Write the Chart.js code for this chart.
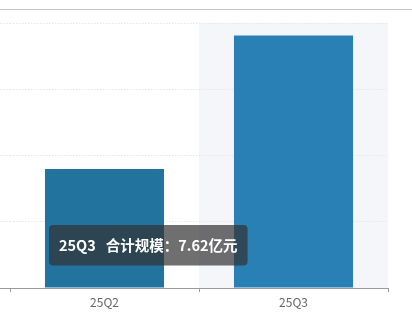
<!DOCTYPE html>
<html>
<head>
<meta charset="utf-8">
<script src="https://cdn.jsdelivr.net/npm/chart.js@4"></script>
<style>
    html, body { margin: 0; padding: 0; background: #fff; }
    .wrap { position: relative; width: 412px; height: 316px; overflow: hidden; }
    .topline { position: absolute; top: 9px; left: 0; width: 412px; height: 1px; background: #c6c6c6; }
    canvas { position: absolute; top: 0; left: 0; }
</style>
</head>
<body>
<div class="wrap">
    <div class="topline"></div>
    <canvas id="scaleChart" width="412" height="316"></canvas>
</div>
<script>
// data
const quarters = ['25Q2', '25Q3'];
const totalScale = [3.59, 7.62];   // 亿元
const yTicks = [0, 2, 4, 6, 8];

const activeIndex = 1;
const FONT = "'Noto Sans CJK SC', 'Noto Sans', sans-serif";

// light band behind the hovered category
const hoverBand = {
    id: 'hoverBand',
    beforeDraw(chart) {
        const active = chart.getActiveElements();
        if (!active.length) return;
        const x = chart.scales.x;
        const area = chart.chartArea;
        const band = (x.right - x.left) / quarters.length;
        const cx = x.getPixelForValue(active[0].index);
        const ctx = chart.ctx;
        ctx.save();
        ctx.fillStyle = '#f5f6fa';
        ctx.fillRect(cx - band / 2, area.top, band, area.bottom - area.top);
        ctx.restore();
    }
};

Chart.Tooltip.positioners.mouseSpot = function () {
    // where the pointer was resting
    return { x: 53, y: 225 };
};

const chart = new Chart(document.getElementById('scaleChart'), {
    type: 'bar',
    data: {
        labels: quarters,
        datasets: [{
            label: '合计规模',
            data: totalScale,
            backgroundColor: '#23739f',
            hoverBackgroundColor: '#2880b4',
            borderWidth: 0,
            barPercentage: 0.63,
            categoryPercentage: 1
        }]
    },
    options: {
        responsive: false,
        animation: false,
        events: [],
        layout: { padding: { top: 23, right: 24, left: 0, bottom: 0 } },
        plugins: {
            legend: { display: false },
            tooltip: {
                enabled: true,
                position: 'mouseSpot',
                xAlign: 'left',
                yAlign: 'top',
                caretSize: 0,
                caretPadding: 0,
                cornerRadius: 4,
                displayColors: false,
                backgroundColor: 'rgba(50, 50, 50, 0.7)',
                padding: { left: 10, right: 10, top: 12, bottom: 11 },
                bodyColor: '#ffffff',
                bodyFont: { family: FONT, size: 14.5, weight: 'bold' },
                callbacks: {
                    title: () => '',
                    label: (c) => `${c.label}   合计规模：${c.parsed.y}亿元`
                }
            }
        },
        scales: {
            x: {
                grid: {
                    display: true,
                    drawOnChartArea: false,
                    offset: true,
                    tickLength: 4,
                    color: '#9a9a9a'
                },
                border: { display: true, color: '#9a9a9a', width: 1 },
                ticks: {
                    color: '#666666',
                    padding: 3,
                    font: { family: FONT, size: 12 }
                },
                afterFit(scale) { scale.height = 28; }
            },
            y: {
                min: 0,
                max: yTicks[yTicks.length - 1],
                afterBuildTicks(scale) {
                    scale.ticks = yTicks.map(v => ({ value: v }));
                },
                ticks: { display: false },
                border: { display: false, dash: [1.5, 1.5] },
                grid: {
                    color: '#e6e7ea',
                    tickLength: 10,
                    tickColor: (c) => c.tick && c.tick.value === 0 ? '#9a9a9a' : '#e6e7ea',
                    tickBorderDash: (c) => c.tick && c.tick.value === 0 ? [] : [1.5, 1.5]
                },
                afterFit(scale) { scale.width = 10; }
            }
        }
    },
    plugins: [hoverBand]
});

chart.setActiveElements([{ datasetIndex: 0, index: activeIndex }]);
chart.tooltip.setActiveElements([{ datasetIndex: 0, index: activeIndex }], { x: 0, y: 0 });
chart.update();
</script>
</body>
</html>
